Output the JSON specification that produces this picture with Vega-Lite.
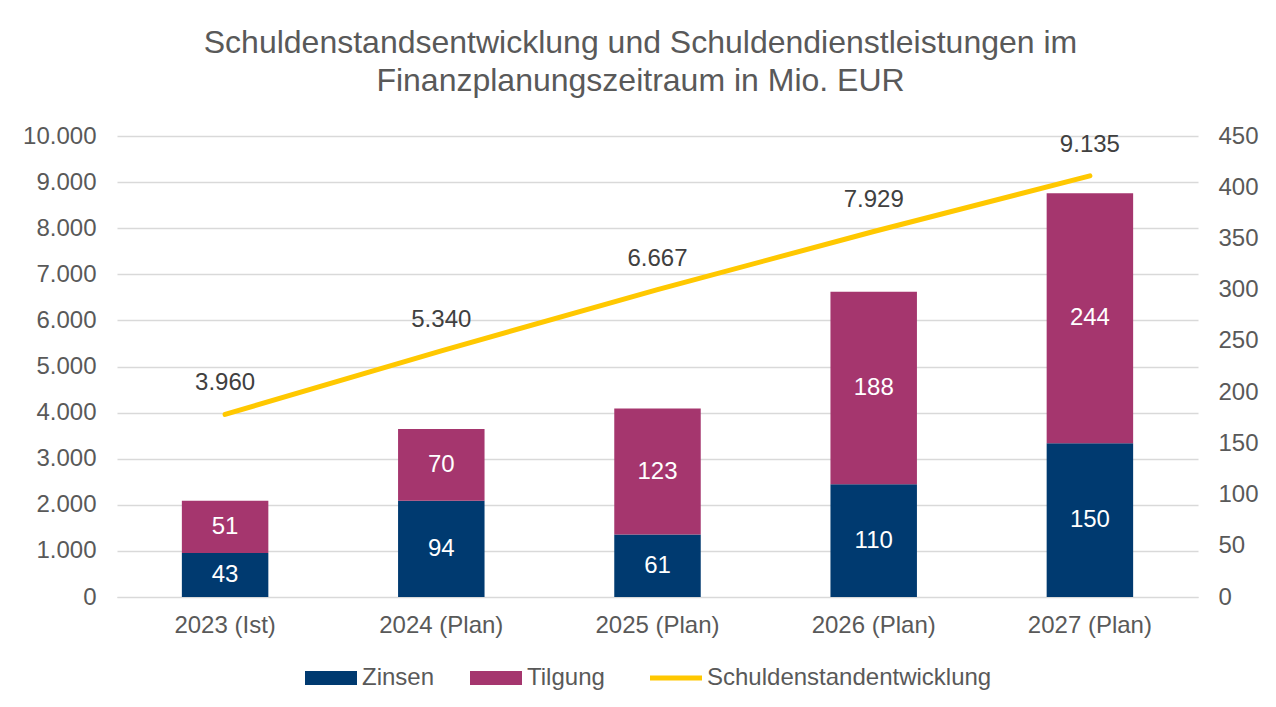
{
  "$schema": "https://vega.github.io/schema/vega-lite/v6.json",
  "autosize": {"type": "none"},
  "width": 1081,
  "height": 461,
  "padding": {"left": 117, "top": 136, "right": 78, "bottom": 110},
  "background": "white",
  "config": {
    "locale": {"number": {"decimal": ",", "thousands": ".", "grouping": [3], "currency": ["", " €"]}},
    "font": "Liberation Sans",
    "view": {"stroke": null},
    "axis": {"labelFont": "Liberation Sans", "labelFontSize": 24, "labelColor": "#595959", "domain": false, "ticks": false, "title": null}
  },
  "title": {
    "text": ["Schuldenstandsentwicklung und Schuldendienstleistungen im", "Finanzplanungszeitraum in Mio. EUR"],
    "font": "Liberation Sans",
    "fontSize": 32,
    "fontWeight": "normal",
    "color": "#595959",
    "lineHeight": 38,
    "anchor": "middle",
    "dx": -17,
    "offset": 26
  },
  "datasets": {
    "bars": [
      {"Jahr": "2023 (Ist)", "Art": "Zinsen", "Wert": 43, "Ordnung": 1},
      {"Jahr": "2023 (Ist)", "Art": "Tilgung", "Wert": 51, "Ordnung": 2},
      {"Jahr": "2024 (Plan)", "Art": "Zinsen", "Wert": 94, "Ordnung": 1},
      {"Jahr": "2024 (Plan)", "Art": "Tilgung", "Wert": 70, "Ordnung": 2},
      {"Jahr": "2025 (Plan)", "Art": "Zinsen", "Wert": 61, "Ordnung": 1},
      {"Jahr": "2025 (Plan)", "Art": "Tilgung", "Wert": 123, "Ordnung": 2},
      {"Jahr": "2026 (Plan)", "Art": "Zinsen", "Wert": 110, "Ordnung": 1},
      {"Jahr": "2026 (Plan)", "Art": "Tilgung", "Wert": 188, "Ordnung": 2},
      {"Jahr": "2027 (Plan)", "Art": "Zinsen", "Wert": 150, "Ordnung": 1},
      {"Jahr": "2027 (Plan)", "Art": "Tilgung", "Wert": 244, "Ordnung": 2}
    ],
    "line": [
      {"Jahr": "2023 (Ist)", "Schuldenstand": 3960},
      {"Jahr": "2024 (Plan)", "Schuldenstand": 5340},
      {"Jahr": "2025 (Plan)", "Schuldenstand": 6667},
      {"Jahr": "2026 (Plan)", "Schuldenstand": 7929},
      {"Jahr": "2027 (Plan)", "Schuldenstand": 9135}
    ]
  },
  "encoding": {
    "x": {
      "field": "Jahr",
      "type": "nominal",
      "sort": null,
      "scale": {"paddingInner": 0.6, "paddingOuter": 0.3},
      "axis": {"labelAngle": 0, "labelPadding": 16, "domain": true, "domainColor": "#d9d9d9", "domainWidth": 1, "grid": false}
    }
  },
  "layer": [
    {
      "layer": [
        {
          "data": {"name": "line"},
          "mark": {"type": "line", "color": "#ffc800", "strokeWidth": 5, "strokeCap": "round"},
          "encoding": {
            "y": {
              "field": "Schuldenstand",
              "type": "quantitative",
              "scale": {"domain": [0, 10000], "nice": false},
              "axis": {"orient": "left", "values": [0,1000,2000,3000,4000,5000,6000,7000,8000,9000,10000], "format": ",.0f", "labelPadding": 21, "grid": true, "gridColor": "#d9d9d9", "gridWidth": 1.3, "zindex": 0}
            }
          }
        },
        {
          "data": {"name": "line"},
          "mark": {"type": "text", "fontSize": 24, "color": "#404040", "dy": -31, "font": "Liberation Sans"},
          "encoding": {
            "y": {"field": "Schuldenstand", "type": "quantitative"},
            "text": {"field": "Schuldenstand", "type": "quantitative", "format": ",.0f"}
          }
        }
      ]
    },
    {
      "data": {"name": "bars"},
      "transform": [
        {"stack": "Wert", "groupby": ["Jahr"], "sort": [{"field": "Ordnung", "order": "ascending"}], "as": ["v0", "v1"]},
        {"calculate": "(datum.v0 + datum.v1) / 2", "as": "mitte"}
      ],
      "layer": [
        {
          "mark": {"type": "bar"},
          "encoding": {
            "y": {
              "field": "v0",
              "type": "quantitative",
              "scale": {"domain": [0, 450], "nice": false},
              "axis": {"orient": "right", "values": [0,50,100,150,200,250,300,350,400,450], "labelPadding": 20, "grid": false}
            },
            "y2": {"field": "v1"},
            "color": {
              "field": "Art",
              "type": "nominal",
              "scale": {"domain": ["Zinsen", "Tilgung", "Schuldenstandentwicklung"], "range": ["#003a70", "#a5366e", "#ffc800"]},
              "legend": {
                "orient": "none",
                "legendX": 202,
                "legendY": 530,
                "direction": "horizontal",
                "title": null,
                "labelFont": "Liberation Sans",
                "labelFontSize": 24,
                "labelColor": "#595959",
                "labelOffset": 19,
                "labelLimit": 500,
                "columnPadding": 35,
                "symbolSize": 2704,
                "values": ["Zinsen", "Tilgung", "Schuldenstandentwicklung"],
                "encode": {
                  "symbols": {
                    "update": {
                      "shape": {"signal": "datum.value === 'Schuldenstandentwicklung' ? 'stroke' : 'M-1,-0.27H1V0.27H-1Z'"},
                      "fill": {"scale": "color", "field": "value"},
                      "stroke": {"scale": "color", "field": "value"},
                      "strokeWidth": {"signal": "datum.value === 'Schuldenstandentwicklung' ? 5 : 0"},
                      "opacity": {"value": 1},
                      "fillOpacity": {"value": 1}
                    }
                  }
                }
              }
            }
          }
        },
        {
          "mark": {"type": "text", "fontSize": 24, "color": "white", "font": "Liberation Sans"},
          "encoding": {
            "y": {"field": "mitte", "type": "quantitative"},
            "text": {"field": "Wert", "type": "quantitative"}
          }
        }
      ]
    }
  ],
  "resolve": {"scale": {"y": "independent"}}
}
